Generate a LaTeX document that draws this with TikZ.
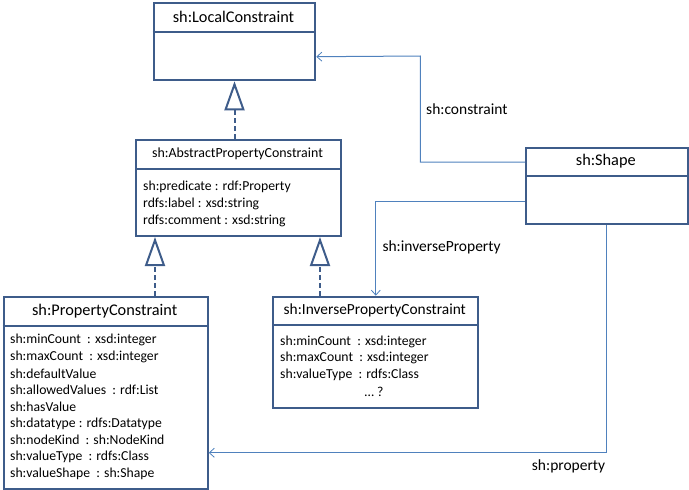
\documentclass[tikz,border=0pt]{standalone}
\usepackage{fontspec}
\setmainfont{Carlito}
\usetikzlibrary{arrows.meta}
\definecolor{boxc}{HTML}{3E5C8A}
\definecolor{linec}{HTML}{4F81BD}
\tikzset{
  umlbox/.style={draw=boxc, line width=2pt, rectangle, inner sep=0pt, anchor=north west},
  sep/.style={draw=boxc, line width=2pt},
  ttl/.style={font=\fontsize{16.3}{18}\selectfont, inner sep=0pt},
  attr/.style={font=\fontsize{13.7}{15}\selectfont, inner sep=0pt, anchor=west},
  lbl/.style={font=\fontsize{15.5}{17}\selectfont, inner sep=0pt, anchor=west},
  gen/.style={draw=boxc, line width=2pt, dash pattern=on 5pt off 3pt,
    -{Triangle[open, length=29pt, width=20pt, line width=2pt]}},
  assoc/.style={draw=linec, line width=1pt, -{Straight Barb[length=5pt, width=9pt, line width=0.8pt]}}
}
\begin{document}
\begin{tikzpicture}[x=1pt, y=-1pt]
\useasboundingbox (0,0) rectangle (689,490);

% sh:LocalConstraint
\node[umlbox, minimum width=161.6pt, minimum height=77.6pt] (lc) at (152.7,1.7) {};
\draw[sep] (152.7,32.3) -- (314.3,32.3);
\node[ttl] (lct) at (233.5,17) {sh:LocalConstraint};

% sh:AbstractPropertyConstraint
\node[umlbox, minimum width=205pt, minimum height=96pt] (apc) at (135,139) {};
\draw[sep] (135,169.3) -- (340,169.3);
\node[ttl, font=\fontsize{13.9}{15}\selectfont] (apct) at (237.5,154.2) {sh:AbstractPropertyConstraint};
\foreach \t [count=\i] in {sh:predicate : rdf:Property, rdfs:label : xsd:string, rdfs:comment : xsd:string}
  \node[attr] (apc-\i) at (143,187.3+16.7*\i-16.7) {\t};

% sh:PropertyConstraint
\node[umlbox, minimum width=204pt, minimum height=192.3pt] (pc) at (2.7,295.7) {};
\draw[sep] (2.7,325.7) -- (206.7,325.7);
\node[ttl] (pct) at (104.7,310.7) {sh:PropertyConstraint};
\foreach \t [count=\i] in {sh:minCount~ : xsd:integer, sh:maxCount~ : xsd:integer, sh:defaultValue, sh:allowedValues~ : rdf:List, sh:hasValue, sh:datatype : rdfs:Datatype, sh:nodeKind~ : sh:NodeKind, sh:valueType~ : rdfs:Class, sh:valueShape~ : sh:Shape}
  \node[attr] (pc-\i) at (10,340+16.7*\i-16.7) {\t};

% sh:InversePropertyConstraint
\node[umlbox, minimum width=205pt, minimum height=111.6pt] (ipc) at (272.3,295.7) {};
\draw[sep] (272.3,325) -- (477.3,325);
\node[ttl, font=\fontsize{15.4}{17}\selectfont] (ipct) at (374.8,310.4) {sh:InversePropertyConstraint};
\foreach \t [count=\i] in {sh:minCount~ : xsd:integer, sh:maxCount~ : xsd:integer, sh:valueType~ : rdfs:Class}
  \node[attr] (ipc-\i) at (280,341.7+16.7*\i-16.7) {\t};
\node[attr, anchor=center] (ipc-4) at (374,391.8) {… ?};

% sh:Shape
\node[umlbox, minimum width=161.7pt, minimum height=76.6pt] (shape) at (525,146.7) {};
\draw[sep] (525,176) -- (686.7,176);
\node[ttl] (shapet) at (605.8,161.4) {sh:Shape};

% generalizations
\coordinate (g1) at (155,0);
\coordinate (g2) at (320,0);
\draw[gen] (apc.north -| lc.south) -- (lc.south);
\draw[gen] (g1 |- pc.north) -- (g1 |- apc.south);
\draw[gen] (g2 |- ipc.north) -- (g2 |- apc.south);

% associations
\draw[assoc] ([yshift=24pt]shape.west) -| (420.3,56) -- ([yshift=-15.2pt]lc.east);
\draw[assoc] ([yshift=-15.7pt]shape.west) -| (ipc.north);
\draw[assoc] (shape.south) |- ([yshift=-59.9pt]pc.east);

% labels
\node[lbl] (l1) at (426,109.3) {sh:constraint};
\node[lbl] (l2) at (382.3,247) {sh:inverseProperty};
\node[lbl] (l3) at (531.7,466.7) {sh:property};
\end{tikzpicture}
\end{document}
